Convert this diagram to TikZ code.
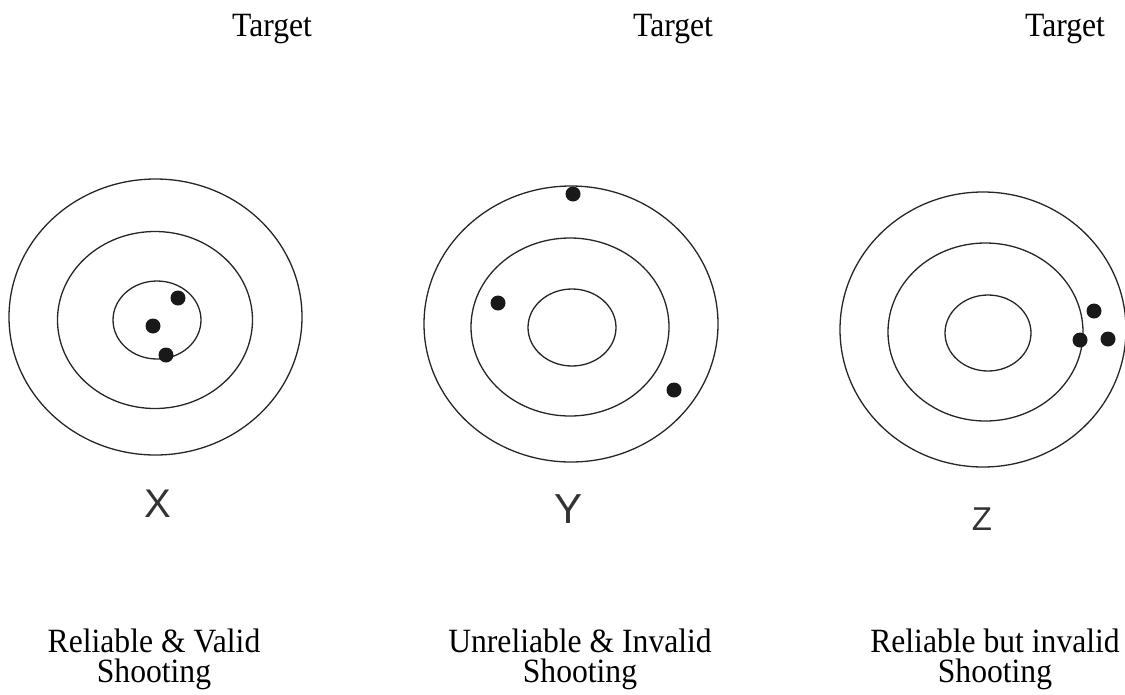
\documentclass[tikz,border=0pt]{standalone}
\usepackage{fontspec}
\setmainfont{Liberation Serif}[FakeStretch=0.93]
\newfontfamily\letterfont{Liberation Sans}
\begin{document}
\begin{tikzpicture}[x=1pt,y=-1pt,
  ring/.style={draw=black!85, line width=1.3pt},
  shot/.style={fill=black!90},
  ttl/.style={font=\fontsize{34}{30}\selectfont, anchor=base, inner sep=0pt},
  capt/.style={font=\fontsize{34}{30}\selectfont, align=center, anchor=base, inner sep=0pt},
  tag/.style={font=\letterfont, anchor=base, inner sep=0pt, text=black!80}]
\useasboundingbox (0,0) rectangle (1125,694);

% titles
\node[ttl] (t1) at (272,36) {Target};
\node[ttl] (t2) at (673,36) {Target};
\node[ttl] (t3) at (1065,36) {Target};

% target X
\draw[ring] (155.5,317) ellipse [x radius=146.5pt, y radius=138pt];
\draw[ring] (155,320) ellipse [x radius=97.5pt, y radius=88.5pt];
\draw[ring] (157,320) ellipse [x radius=44pt, y radius=39pt];
\fill[shot] (178,298) circle [radius=7.5pt];
\fill[shot] (153,326) circle [radius=7.5pt];
\fill[shot] (166,355) circle [radius=7.5pt];

% target Y
\draw[ring] (571,324) ellipse [x radius=147pt, y radius=138pt];
\draw[ring] (570,327) ellipse [x radius=99pt, y radius=89pt];
\draw[ring] (572,327.5) ellipse [x radius=44pt, y radius=38.5pt];
\fill[shot] (573,194) circle [radius=7.5pt];
\fill[shot] (498,303) circle [radius=7.5pt];
\fill[shot] (674,390) circle [radius=7.5pt];

% target Z
\draw[ring] (983,329.5) ellipse [x radius=143pt, y radius=137.5pt];
\draw[ring] (985.5,332) ellipse [x radius=97.5pt, y radius=89pt];
\draw[ring] (988,333) ellipse [x radius=43pt, y radius=38pt];
\fill[shot] (1094,311) circle [radius=7.5pt];
\fill[shot] (1080,340) circle [radius=7.5pt];
\fill[shot] (1108,339) circle [radius=7.5pt];

% letters
\node[tag, font=\letterfont\fontsize{40}{40}\selectfont] (lx) at (158,517) {X};
\node[tag, font=\letterfont\fontsize{42}{42}\selectfont] (ly) at (568.5,523) {Y};
\node[tag, font=\letterfont\fontsize{33}{33}\selectfont] (lz) at (982,530) {Z};

% captions
\node[capt] (c1) at (154,682) {Reliable \& Valid\\Shooting};
\node[capt] (c2) at (580,682) {Unreliable \& Invalid\\Shooting};
\node[capt] (c3) at (995,682) {Reliable but invalid\\Shooting};
\end{tikzpicture}
\end{document}
